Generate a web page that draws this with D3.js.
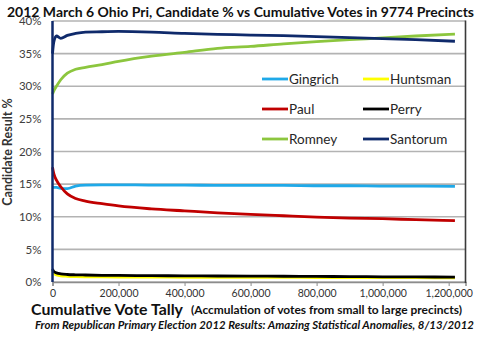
<!DOCTYPE html>
<html><head><meta charset="utf-8">
<script src="https://cdn.jsdelivr.net/npm/d3@7"></script>
<style>body{margin:0;background:#fff}svg{display:block}</style>
</head><body><svg id="c" width="480" height="339"></svg>
<script>
const votes = [0,4000,12000,25000,45000,70000,100000,150000,200000,300000,400000,500000,600000,700000,800000,900000,1000000,1100000,1219000];
const gingrich = [14.5,14.5,14.5,14.35,14.3,14.7,14.85,14.9,14.9,14.85,14.85,14.8,14.8,14.8,14.75,14.75,14.7,14.7,14.65];
const huntsman = [1.8,1.3,1.1,0.95,0.88,0.83,0.8,0.78,0.76,0.74,0.73,0.72,0.71,0.7,0.69,0.68,0.67,0.66,0.65];
const paul     = [17.6,16.6,15.6,14.6,13.5,12.8,12.4,12.0,11.65,11.2,10.9,10.6,10.35,10.15,9.95,9.8,9.7,9.55,9.4];
const perry    = [2.0,1.6,1.4,1.25,1.15,1.1,1.07,1.03,1.0,0.97,0.95,0.92,0.9,0.88,0.85,0.83,0.8,0.78,0.75];
const romney   = [28.8,29.3,30.0,31.0,32.0,32.6,32.9,33.3,33.8,34.6,35.2,35.8,36.1,36.5,36.85,37.15,37.4,37.7,38.0];
const santorum = [35.0,36.8,37.7,37.35,37.8,38.1,38.3,38.35,38.4,38.3,38.1,37.95,37.85,37.75,37.6,37.45,37.3,37.15,36.9];
const seriesNames = ["Gingrich","Huntsman","Paul","Perry","Romney","Santorum"];
const seriesColors = ["#1fa9e8","#ffff00","#c00000","#000000","#8cc63e","#0f2a6b"];
const seriesData = [gingrich,huntsman,paul,perry,romney,santorum];
const xTicks = [0,200000,400000,600000,800000,1000000,1200000];
const yTicks = [0,5,10,15,20,25,30,35,40];

const svg = d3.select("#c");
const L=52.5, R=465.5, T=21, B=282;
const x = d3.scaleLinear().domain([0,1251000]).range([L,R]);
const y = d3.scaleLinear().domain([0,40]).range([B,T]);
const font = "Lato, 'Open Sans', sans-serif";

// gridlines
svg.append("g").selectAll("line").data(yTicks).join("line")
  .attr("x1",L).attr("x2",R).attr("y1",d=>y(d)).attr("y2",d=>y(d))
  .attr("stroke","#b3b3b3").attr("stroke-width",1.6);

// x axis
const xa = svg.append("g").attr("transform",`translate(0,${B})`)
  .call(d3.axisBottom(x).tickValues(xTicks).tickSize(4).tickPadding(4).tickFormat(d3.format(",")));
xa.select(".domain").attr("stroke","#8c8c8c").attr("stroke-width",1.5);
xa.selectAll(".tick line").attr("stroke","#8c8c8c");
xa.selectAll("text").attr("font-family",font).attr("font-size",10.5).attr("fill","#333");

// y axis
const ya = svg.append("g").attr("transform",`translate(${L},0)`)
  .call(d3.axisLeft(y).tickValues(yTicks).tickSize(0).tickPadding(11).tickFormat(d=>d+"%"));
ya.select(".domain").remove();
ya.selectAll("text").attr("font-family",font).attr("font-size",11.5).attr("fill","#404040");

// right border
svg.append("line").attr("x1",R).attr("x2",R).attr("y1",T-0.5).attr("y2",B+1)
  .attr("stroke","#3a3a3a").attr("stroke-width",1.6);

// series
const line = d3.line().x((d,i)=>x(votes[i])).y(d=>y(d)).curve(d3.curveMonotoneX);
seriesData.forEach((s,k)=>{
  svg.append("path").datum(s).attr("d",line).attr("fill","none")
    .attr("stroke",seriesColors[k]).attr("stroke-width",2.8).attr("stroke-linejoin","round");
});

// y axis line (navy)
svg.append("line").attr("x1",L).attr("x2",L).attr("y1",T).attr("y2",B)
  .attr("stroke","#0f2a6b").attr("stroke-width",2.5);

// legend
const legX=[262,363], legY=[79,109,139];
seriesNames.forEach((n,i)=>{
  const cx=legX[i%2], cy=legY[Math.floor(i/2)];
  svg.append("line").attr("x1",cx).attr("x2",cx+26).attr("y1",cy).attr("y2",cy)
    .attr("stroke",seriesColors[i]).attr("stroke-width",2.8);
  svg.append("text").attr("x",cx+27).attr("y",cy+4.5).text(n)
    .attr("font-family",font).attr("font-size",13.5).attr("fill","#262626");
});

// titles
svg.append("text").attr("x",7).attr("y",16.5)
  .attr("textLength",467).attr("lengthAdjust","spacingAndGlyphs")
  .attr("font-family",font).attr("font-weight","bold").attr("font-size",14).attr("fill","#111")
  .text("2012 March 6 Ohio Pri, Candidate % vs Cumulative Votes in 9774 Precincts");
svg.append("text").attr("transform","translate(12,152) rotate(-90)").attr("text-anchor","middle")
  .attr("font-family",font).attr("font-weight","bold").attr("font-size",12.5).attr("fill","#333")
  .text("Candidate Result %");
svg.append("text").attr("x",31).attr("y",315)
  .attr("textLength",152).attr("lengthAdjust","spacingAndGlyphs")
  .attr("font-family",font).attr("font-weight","bold").attr("font-size",15).attr("fill","#111")
  .text("Cumulative Vote Tally");
svg.append("text").attr("x",191).attr("y",314)
  .attr("textLength",271).attr("lengthAdjust","spacingAndGlyphs")
  .attr("font-family",font).attr("font-weight","bold").attr("font-size",11.5).attr("fill","#111")
  .text("(Accmulation of votes from small to large precincts)");
svg.append("text").attr("x",35).attr("y",329)
  .attr("textLength",439).attr("lengthAdjust","spacingAndGlyphs")
  .attr("font-family",font).attr("font-weight","bold").attr("font-style","italic").attr("font-size",11.3).attr("fill","#111")
  .text("From Republican Primary Election 2012 Results:  Amazing Statistical Anomalies, 8/13/2012");
</script></body></html>
